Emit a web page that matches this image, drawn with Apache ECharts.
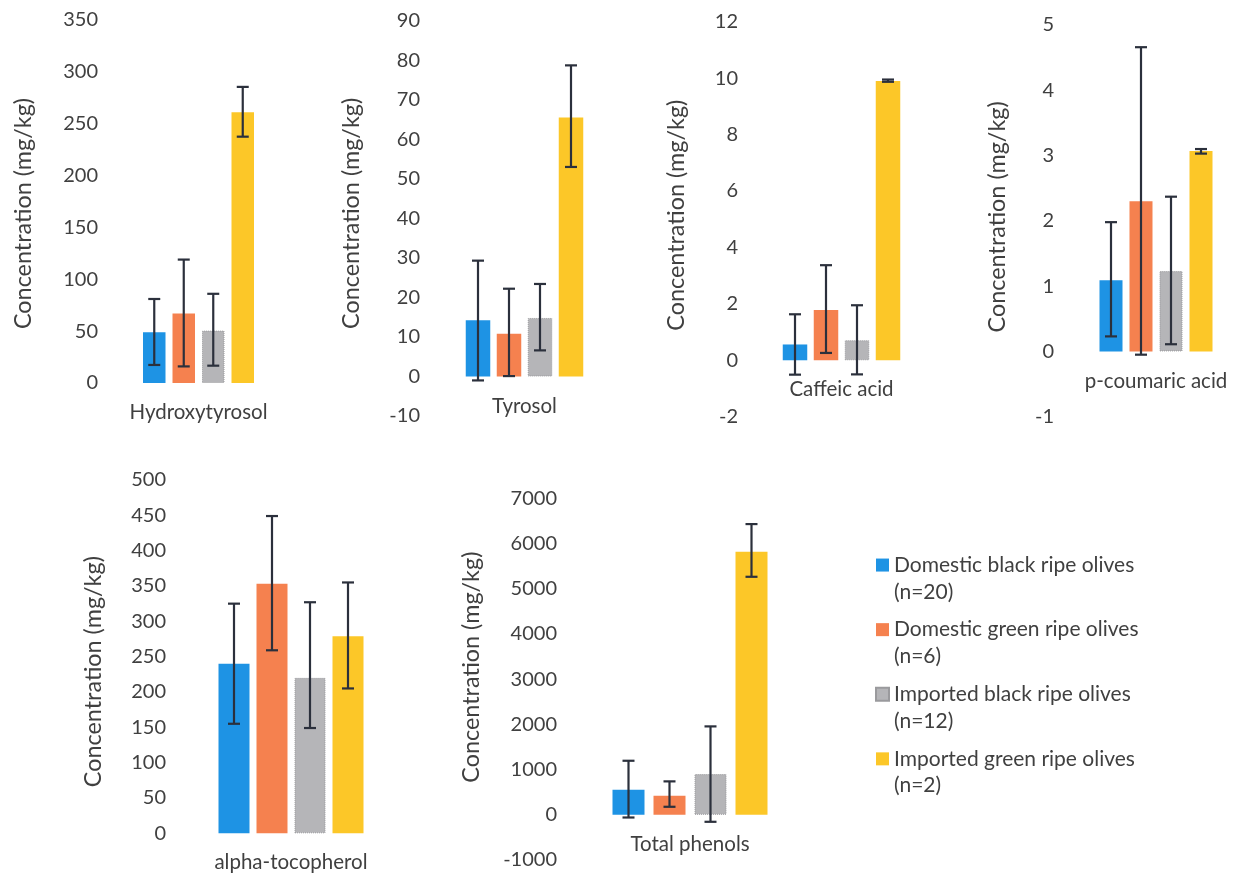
<!DOCTYPE html>
<html>
<head>
<meta charset="utf-8">
<script src="https://cdn.jsdelivr.net/npm/echarts@6/dist/echarts.min.js"></script>
<style>
  html, body { margin: 0; padding: 0; background: #ffffff; }
  #chart { width: 1241px; height: 877px; }
</style>
</head>
<body>
<div id="chart"></div>
<script>
// Compounds, one small panel each
const categories = ['Hydroxytyrosol', 'Tyrosol', 'Caffeic acid', 'p-coumaric acid', 'alpha-tocopherol', 'Total phenols'];

// Olive groups shown in the legend
const groupNames = ['Domestic black ripe olives', 'Domestic green ripe olives', 'Imported black ripe olives', 'Imported green ripe olives'];
const groupCounts = ['(n=20)', '(n=6)', '(n=12)', '(n=2)'];

// Mean concentrations (mg/kg), in the order of categories
const domesticBlack = [49, 14.2, 0.56, 1.09, 240, 555];
const domesticGreen = [67, 10.8, 1.78, 2.3, 353, 420];
const importedBlack = [50.5, 14.8, 0.71, 1.23, 220, 900];
const importedGreen = [261, 65.5, 9.9, 3.07, 279, 5817];

// Error bar ends (lower / upper whisker), same order
const domesticBlackLow  = [17.4, -1.0, -0.51, 0.23, 155, -60];
const domesticBlackHigh = [81, 29.3, 1.63, 1.98, 325, 1195];
const domesticGreenLow  = [16, 0.1, 0.26, -0.05, 259, 177];
const domesticGreenHigh = [119, 22.2, 3.37, 4.66, 449, 739];
const importedBlackLow  = [16.7, 6.6, -0.5, 0.11, 149, -155];
const importedBlackHigh = [86, 23.4, 1.95, 2.37, 327, 1955];
const importedGreenLow  = [237.5, 53, 9.87, 3.03, 205, 5264];
const importedGreenHigh = [285.5, 78.7, 9.95, 3.1, 355, 6430];

// Value axis ticks per panel
const axisMin  = [0, -10, -2, -1, 0, -1000];
const axisMax  = [350, 90, 12, 5, 500, 7000];
const axisStep = [50, 10, 2, 1, 50, 1000];

const groupValues = [domesticBlack, domesticGreen, importedBlack, importedGreen];
const groupLow = [domesticBlackLow, domesticGreenLow, importedBlackLow, importedGreenLow];
const groupHigh = [domesticBlackHigh, domesticGreenHigh, importedBlackHigh, importedGreenHigh];

const groupColors = ['#1e93e4', '#f5814f', '#b5b5b8', '#fcc728'];
const textColor = '#404040';
const font = 'Lato';

// Panel geometry: plot box and bar sizing
const panels = [
  { left: 108, width: 181, top: 20,  bottom: 383, barWidth: 22.5, gap: 7,   nameGap: 73, shift: 12 },
  { left: 430, width: 189, top: 20.7, bottom: 416, barWidth: 24.5, gap: 6.5, nameGap: 67, shift: -5 },
  { left: 748, width: 187, top: 21.7, bottom: 416.7, barWidth: 24.5, gap: 6.5, nameGap: 60, shift: -4 },
  { left: 1064, width: 184, top: 25, bottom: 416.7, barWidth: 23, gap: 7,   nameGap: 55, shift: -4 },
  { left: 176, width: 230, top: 480, bottom: 833.3, barWidth: 31, gap: 7,   nameGap: 71, shift: 15 },
  { left: 567, width: 246, top: 498.3, bottom: 860, barWidth: 32, gap: 9,   nameGap: 84, shift: -12 }
];

const grid = [], xAxis = [], yAxis = [], series = [];

panels.forEach((p, i) => {
  const height = p.bottom - p.top;
  grid.push({
    left: p.left, top: p.top, width: p.width, height: height,
    containLabel: false, outerBoundsMode: 'none'
  });
  // raise the category axis from the plot bottom up to the zero level
  const zeroLift = (0 - axisMin[i]) / (axisMax[i] - axisMin[i]) * height;
  xAxis.push({
    type: 'category', gridIndex: i, data: [categories[i]],
    position: 'bottom', offset: -zeroLift,
    axisLine: { show: false, onZero: false },
    axisTick: { show: false },
    axisLabel: { margin: 19, color: textColor, fontFamily: font, fontSize: 20.5 },
    splitLine: { show: false }
  });
  const pad = p.shift >= 0 ? [0, 2 * p.shift, 0, 0] : [0, 0, 0, -2 * p.shift];
  yAxis.push({
    type: 'value', gridIndex: i,
    min: axisMin[i], max: axisMax[i], interval: axisStep[i],
    axisLine: { show: false }, axisTick: { show: false }, splitLine: { show: false },
    axisLabel: { margin: 10, color: textColor, fontFamily: font, fontSize: 20, formatter: v => String(v) },
    name: 'Concentration (mg/kg)', nameLocation: 'middle', nameGap: p.nameGap,
    nameTextStyle: { color: textColor, fontFamily: font, fontSize: 23.4, padding: pad }
  });

  groupNames.forEach((name, g) => {
    series.push({
      type: 'bar', name: name, xAxisIndex: i, yAxisIndex: i,
      data: [groupValues[g][i]],
      barWidth: p.barWidth, barGap: (p.gap / p.barWidth * 100) + '%',
      itemStyle: g === 2
        ? { color: groupColors[g], borderColor: '#9a9a9d', borderWidth: 1, borderType: 'dotted' }
        : { color: groupColors[g] },
      emphasis: { disabled: true },
      silent: true
    });
  });

  // Error bars with caps, one per group, centred on its bar
  const errData = groupNames.map((_, g) => [0, groupLow[g][i], groupHigh[g][i], g]);
  series.push({
    type: 'custom', name: 'error-' + i, xAxisIndex: i, yAxisIndex: i,
    data: errData, z: 5, silent: true,
    encode: { x: 0, y: [1, 2] },
    renderItem: function (params, api) {
      const g = api.value(3);
      const lo = api.coord([0, api.value(1)]);
      const hi = api.coord([0, api.value(2)]);
      const x = lo[0] + (g - 1.5) * (p.barWidth + p.gap);
      const cap = 6;
      const style = { stroke: '#2b303c', lineWidth: 2.2, fill: null };
      return {
        type: 'group',
        children: [
          { type: 'line', shape: { x1: x, y1: lo[1], x2: x, y2: hi[1] }, style: style },
          { type: 'line', shape: { x1: x - cap, y1: lo[1], x2: x + cap, y2: lo[1] }, style: style },
          { type: 'line', shape: { x1: x - cap, y1: hi[1], x2: x + cap, y2: hi[1] }, style: style }
        ]
      };
    }
  });
});

const chart = echarts.init(document.getElementById('chart'), null, { renderer: 'canvas' });
chart.setOption({
  backgroundColor: '#ffffff',
  animation: false,
  grid: grid,
  xAxis: xAxis,
  yAxis: yAxis,
  legend: {
    data: groupNames,
    orient: 'vertical',
    left: 875, top: 525,
    padding: 0,
    itemWidth: 13, itemHeight: 13,
    itemGap: -15.5,
    icon: 'rect',
    selectedMode: false,
    // leading blank line keeps the swatch level with the group name
    formatter: name => ' \n' + name + '\n' + groupCounts[groupNames.indexOf(name)],
    textStyle: { color: textColor, fontFamily: font, fontSize: 21, lineHeight: 26.7 }
  },
  series: series
});
</script>
</body>
</html>
